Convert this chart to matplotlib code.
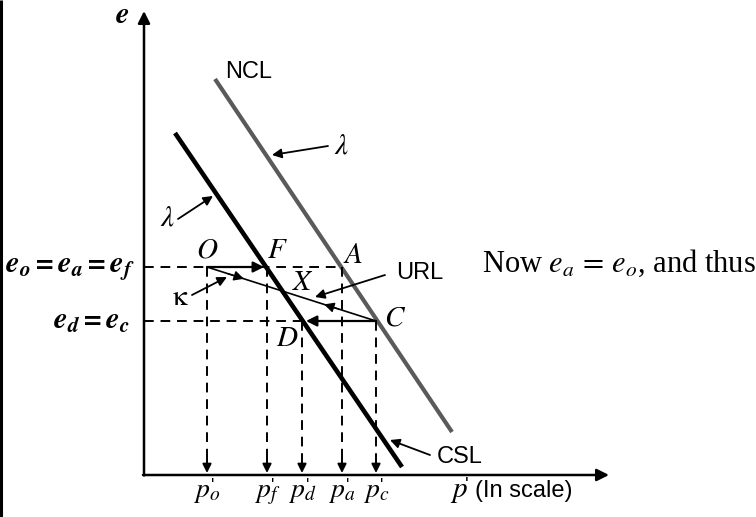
import matplotlib
matplotlib.use("Agg")
import matplotlib.pyplot as plt

# schematic values: x = ln p' (arbitrary units), y = void ratio e
p_names = ["o", "f", "d", "a", "c"]
p_vals = [0.63, 1.23, 1.58, 1.98, 2.32]
p_tops = [2.08, 2.08, 1.54, 2.08, 1.54]   # where each dashed drop starts
e_o = 2.08
e_d = 1.54

ncl_x = [0.71, 3.08]
ncl_e = [3.96, 0.43]
csl_x = [0.31, 2.58]
csl_e = [3.42, 0.08]

# URL unloading/reloading path O -> C
url_x = [p_vals[0], p_vals[4]]
url_e = [e_o, e_d]

plt.rcParams.update({
    "font.family": "Liberation Sans",
    "mathtext.fontset": "stix",
})

fig = plt.figure(figsize=(7.56, 5.17), dpi=100)
ax = fig.add_axes([0, 0, 1, 1])
ax.set_xlim(-1.44, 6.12)
ax.set_ylim(-0.42, 4.75)
ax.axis("off")

# left border line of the page
ax.plot([-1.43, -1.43], [-0.42, 4.75], color="black", lw=2.2, solid_capstyle="butt")

# axes with arrows
ax.annotate("", xy=(0, 4.64), xytext=(0, -0.005),
            arrowprops=dict(arrowstyle="-|>", lw=1.8, color="black", mutation_scale=18,
                            shrinkA=0, shrinkB=0))
ax.annotate("", xy=(4.65, 0), xytext=(-0.01, 0),
            arrowprops=dict(arrowstyle="-|>", lw=1.8, color="black", mutation_scale=18,
                            shrinkA=0, shrinkB=0))

# NCL and CSL
ax.plot(ncl_x, ncl_e, color="#5a5a5a", lw=3.0, solid_capstyle="butt")
ax.plot(csl_x, csl_e, color="black", lw=3.3, solid_capstyle="butt")

# horizontal dashed levels
dash = dict(color="black", lw=1.4, ls=(0, (5, 3.5)))
ax.plot([0, p_vals[3]], [e_o, e_o], **dash)
ax.plot([0, p_vals[4]], [e_d, e_d], **dash)

# vertical dashed drops with arrowheads
for x, top in zip(p_vals, p_tops):
    ax.plot([x, x], [top, 0.2], **dash)
    ax.annotate("", xy=(x, 0.02), xytext=(x, 0.2),
                arrowprops=dict(arrowstyle="-|>", lw=1.4, color="black", mutation_scale=13,
                                shrinkA=0, shrinkB=0))

# O -> F and C -> D paths
ax.annotate("", xy=(1.20, e_o), xytext=(p_vals[0], e_o),
            arrowprops=dict(arrowstyle="-|>", lw=1.6, color="black", mutation_scale=16,
                            shrinkA=0, shrinkB=0))
ax.annotate("", xy=(1.62, e_d), xytext=(p_vals[4], e_d),
            arrowprops=dict(arrowstyle="-|>", lw=1.6, color="black", mutation_scale=16,
                            shrinkA=0, shrinkB=0))

# URL line with direction arrows
ax.plot(url_x, url_e, color="black", lw=1.2)
slope = (url_e[1] - url_e[0]) / (url_x[1] - url_x[0])
for xa, xb in [(0.84, 1.0), (1.95, 1.80)]:
    ax.annotate("", xy=(xb, url_e[0] + slope * (xb - url_x[0])),
                xytext=(xa, url_e[0] + slope * (xa - url_x[0])),
                arrowprops=dict(arrowstyle="-|>", lw=1.0, color="black", mutation_scale=15,
                                shrinkA=0, shrinkB=0))

# pointer arrows
ptr = dict(arrowstyle="-|>", lw=1.3, color="black", mutation_scale=14, shrinkA=0, shrinkB=0)
ax.annotate("", xy=(1.28, 3.20), xytext=(1.84, 3.29), arrowprops=ptr)
ax.annotate("", xy=(0.69, 2.79), xytext=(0.34, 2.56), arrowprops=ptr)
ax.annotate("", xy=(0.83, 1.98), xytext=(0.48, 1.80), arrowprops=ptr)
ax.annotate("", xy=(1.71, 1.78), xytext=(2.41, 2.00), arrowprops=ptr)
ax.annotate("", xy=(2.46, 0.35), xytext=(2.86, 0.20), arrowprops=ptr)

# sans labels
ax.text(1.05, 4.03, "NCL", fontsize=17, ha="center", va="center")
ax.text(2.76, 2.02, "URL", fontsize=17, ha="center", va="center")
ax.text(3.16, 0.18, "CSL", fontsize=17, ha="center", va="center")
ax.text(3.06, -0.22, r"$p$", fontsize=21, ha="left", va="baseline")
ax.annotate("'", xy=(3.06, -0.22), xytext=(11, 5), textcoords="offset points",
            fontsize=14, ha="left", va="baseline")
ax.text(3.31, -0.22, "(In scale)", fontsize=17, ha="left", va="baseline")

# greek labels
ax.text(1.97, 3.29, r"$\lambda$", fontsize=21, ha="center", va="center")
ax.text(0.23, 2.57, r"$\lambda$", fontsize=21, ha="center", va="center")
ax.text(0.36, 1.78, r"$\mathrm{\kappa}$", fontsize=21, ha="center", va="center")

# point labels
for lab, (x, y) in {"O": (0.63, 2.25), "F": (1.33, 2.25), "A": (2.09, 2.20),
                    "X": (1.59, 1.93), "C": (2.51, 1.58), "D": (1.43, 1.37)}.items():
    ax.text(x, y, "$" + lab + "$", fontsize=21, ha="center", va="center")

# axis labels
ax.text(-0.22, 4.60, r"$\mathbfit{e}$", fontsize=22, ha="center", va="center")
ax.text(-0.09, e_o, r"$\mathbfit{e_o = e_a = e_f}$", fontsize=22, ha="right", va="center")
ax.text(-0.14, e_d, r"$\mathbfit{e_d = e_c}$", fontsize=22, ha="right", va="center")

# p' tick labels: p with subscript, prime drawn above the subscript
for name, x in zip(p_names, p_vals):
    ax.text(x, -0.22, r"$p_{%s}$" % name, fontsize=20, ha="center", va="baseline")
    ax.annotate("'", xy=(x, -0.22), xytext=(3, 4), textcoords="offset points",
                fontsize=13, ha="left", va="baseline")

ax.text(3.38, 2.12, r"Now $e_a\,=\,e_o$, and thus", fontsize=22, ha="left", va="center",
        family="Liberation Serif")

fig.savefig("out.png", dpi=100)
